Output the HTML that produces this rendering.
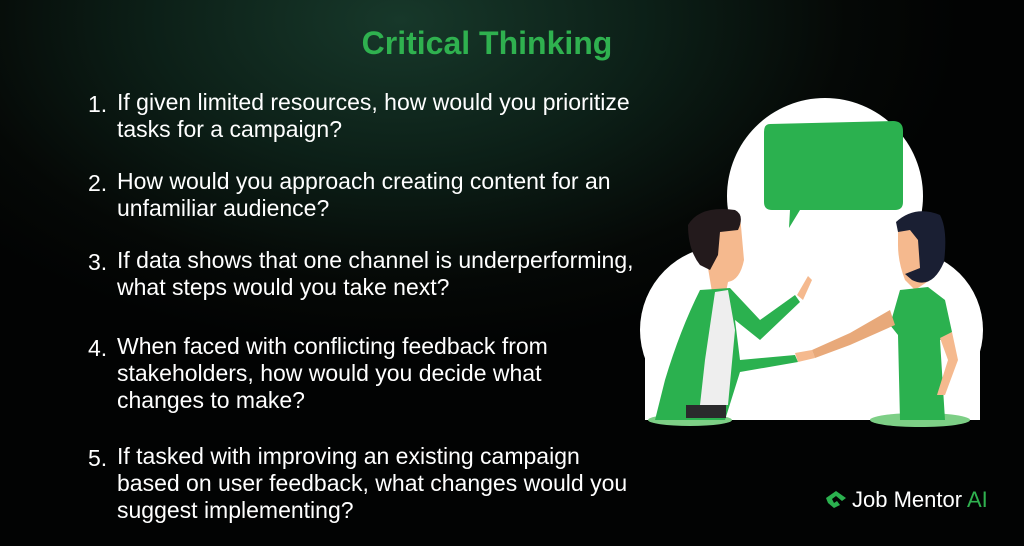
<!DOCTYPE html>
<html><head><meta charset="utf-8"><style>
body{margin:0}
#c{position:relative;width:1024px;height:546px;overflow:hidden;background:radial-gradient(ellipse 560px 330px at 400px 20px,#17382a 0%,#0c1f17 45%,#050806 80%,#020303 100%);font-family:"Liberation Sans",sans-serif;color:#fff}
h1{position:absolute;left:0;width:974px;top:25px;margin:0;text-align:center;font-size:32px;color:#2fb14f;font-weight:bold}
.n{position:absolute;left:88px;font-size:23px}
.t{position:absolute;left:117px;font-size:23px;line-height:27px}
.logo{position:absolute;left:852px;top:487px;font-size:22px}
</style></head><body><div id="c">
<h1>Critical Thinking</h1>
<div class="n" style="top:91px">1.</div><div class="t" style="top:89px">If given limited resources, how would you prioritize<br>tasks for a campaign?</div>
<div class="n" style="top:170px">2.</div><div class="t" style="top:168px">How would you approach creating content for an<br>unfamiliar audience?</div>
<div class="n" style="top:249px">3.</div><div class="t" style="top:247px">If data shows that one channel is underperforming,<br>what steps would you take next?</div>
<div class="n" style="top:335px">4.</div><div class="t" style="top:333px">When faced with conflicting feedback from<br>stakeholders, how would you decide what<br>changes to make?</div>
<div class="n" style="top:445px">5.</div><div class="t" style="top:443px">If tasked with improving an existing campaign<br>based on user feedback, what changes would you<br>suggest implementing?</div>
<svg style="position:absolute;left:0;top:0" width="1024" height="546">
<g fill="#fff">
<circle cx="825" cy="196" r="98"/>
<circle cx="724" cy="330" r="84"/>
<circle cx="903" cy="330" r="80"/>
<rect x="700" y="250" width="230" height="170"/>
<rect x="645" y="330" width="335" height="90"/>
</g>
<path d="M770 124 L893 121 Q903 121 903 131 L903 202 Q903 210 895 210 L800 210 L789 228 L790 210 L772 210 Q764 210 764 202 L764 132 Q764 124 770 124Z" fill="#2bb14f"/>
<ellipse cx="690" cy="420" rx="42" ry="6" fill="#7dcf86"/>
<ellipse cx="920" cy="420" rx="50" ry="7" fill="#7dcf86"/>
<path d="M702 220 Q720 205 740 215 L744 260 Q740 280 728 282 L726 292 L712 292 L705 250Z" fill="#f5b98e"/>
<path d="M688 225 Q700 205 735 210 Q745 215 738 230 L720 232 L718 255 L710 270 L700 265 Q688 250 688 225Z" fill="#231a1c"/>
<path d="M700 290 L730 288 L760 320 L795 295 L800 302 L760 340 L735 320 L740 360 L795 355 L798 362 L740 372 L725 420 L655 420 L665 380 Q680 330 700 290Z" fill="#2bb14f"/>
<path d="M715 292 L728 290 L735 330 L728 405 L700 405 L705 360Z" fill="#eeeeee"/>
<rect x="686" y="405" width="40" height="13" fill="#2a2a2c"/>
<path d="M797 295 L808 276 L812 280 L803 300Z" fill="#f5b98e"/>
<path d="M795 353 L812 350 L815 358 L798 362Z" fill="#f5b98e"/>
<path d="M898 225 Q920 212 935 222 L930 280 L915 290 L905 280 Q898 262 898 245Z" fill="#f5b98e"/>
<path d="M896 222 Q915 205 940 215 Q948 230 944 262 Q932 290 912 280 L905 274 Q915 270 920 268 L918 240 L910 230 L898 232Z" fill="#1a1f33"/>
<path d="M900 290 L928 287 L945 300 L952 332 L940 340 L945 420 L900 420 L898 335 L890 325Z" fill="#2bb14f"/>
<path d="M890 310 L895 325 L850 345 L815 358 L812 350 L850 333Z" fill="#e8a97a"/>
<path d="M940 338 L952 332 L958 360 L945 395 L937 395 L948 360Z" fill="#f5b98e"/>
</svg>
<svg style="position:absolute;left:824px;top:489px" width="24" height="20" viewBox="0 0 24 20"><path d="M2 9 L12 2 L22 9 L18 12 L12 7 L8 10 L10 14 L13 12 L16 16 L10 19 L4 14Z" fill="#2bb14f"/></svg>
<div class="logo">Job Mentor <span style="color:#2fb14f">AI</span></div>
</div></body></html>
